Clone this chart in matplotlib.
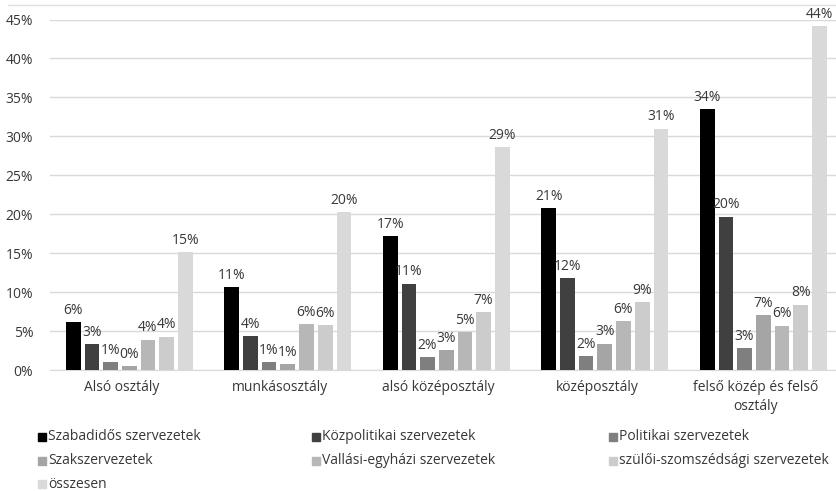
import matplotlib
matplotlib.use("Agg")
import matplotlib.pyplot as plt
from matplotlib.patches import Rectangle
import numpy as np

categories = ["Alsó osztály", "munkásosztály", "alsó középosztály",
              "középosztály", "felső közép és felső\nosztály"]
series_names = ["Szabadidős szervezetek", "Közpolitikai szervezetek",
                "Politikai szervezetek", "Szakszervezetek",
                "Vallási-egyházi szervezetek", "szülői-szomszédsági szervezetek",
                "összesen"]
szabadidos = [6.2, 10.6, 17.2, 20.8, 33.5]
kozpolitikai = [3.3, 4.4, 11.1, 11.8, 19.7]
politikai = [1.0, 1.0, 1.7, 1.8, 2.8]
szakszervezet = [0.45, 0.8, 2.6, 3.4, 7.0]
vallasi = [3.9, 5.9, 4.9, 6.3, 5.7]
szuloi = [4.3, 5.8, 7.4, 8.7, 8.4]
osszesen = [15.1, 20.3, 28.6, 31.0, 44.2]
series = [szabadidos, kozpolitikai, politikai, szakszervezet, vallasi, szuloi, osszesen]
colors = ["#000000", "#404040", "#7f7f7f", "#a5a5a5", "#b7b7b7", "#cccccc", "#d9d9d9"]
yticks = [0, 5, 10, 15, 20, 25, 30, 35, 40, 45]

plt.rcParams['font.family'] = ['Open Sans', 'DejaVu Sans']
txt = "#383838"
fs = 10
W, H = 836, 491
fig = plt.figure(figsize=(W / 100, H / 100), dpi=100)
left_px, right_px, bottom_px, top_px = 50, 836, 370, 19.5
ax = fig.add_axes([left_px / W, 1 - bottom_px / H, (right_px - left_px) / W, (bottom_px - top_px) / H])

slot = 158.5
x = np.arange(len(categories))
step = 18.7 / slot
width = 14.7 / slot
for i, (vals, c, name) in enumerate(zip(series, colors, series_names)):
    pos = x + (i - 3) * step
    bars = ax.bar(pos, vals, width=width, color=c, label=name, zorder=3)
    for b, v in zip(bars, vals):
        ax.annotate(f"{round(v):d}%", (b.get_x() + b.get_width() / 2, v),
                    xytext=(0, 3), textcoords="offset points", ha="center", va="bottom",
                    fontsize=fs, color=txt, zorder=4)

ax.set_xlim(-0.5, -0.5 + (right_px - left_px) / slot)
ax.set_ylim(0, 45)
ax.set_yticks(yticks)
ax.set_yticklabels([f"{t}%" for t in yticks], fontsize=fs, color=txt)
ax.set_xticks(x - 0.05)
ax.set_xticklabels(categories, fontsize=fs, color=txt, linespacing=1.35)
ax.tick_params(axis="both", length=0)
ax.tick_params(axis="y", pad=12)
ax.tick_params(axis="x", pad=7)
ax.grid(axis="y", color="#d9d9d9", linewidth=1, zorder=0)
for s in ["top", "right", "left"]:
    ax.spines[s].set_visible(False)
ax.spines["bottom"].set_color("#d9d9d9")
ax.set_facecolor("none")

# top border line
fig.add_artist(plt.Line2D([8 / W, 1], [1 - 5 / H, 1 - 5 / H], color="#e0e0e0", lw=1,
                          transform=fig.transFigure))

# legend (row-major, 3 columns)
col_x = [38, 312, 609]
row_y = [437, 461, 484]
for k, (name, c) in enumerate(zip(series_names, colors)):
    r, cidx = divmod(k, 3)
    xm, ym = col_x[cidx], row_y[r]
    fig.add_artist(Rectangle((xm / W, 1 - (ym + 4) / H), 8 / W, 8 / H, color=c,
                             transform=fig.transFigure))
    fig.text((xm + 10) / W, 1 - ym / H, name, fontsize=fs, color=txt, va="center", ha="left")

fig.savefig("out.png", dpi=100)
